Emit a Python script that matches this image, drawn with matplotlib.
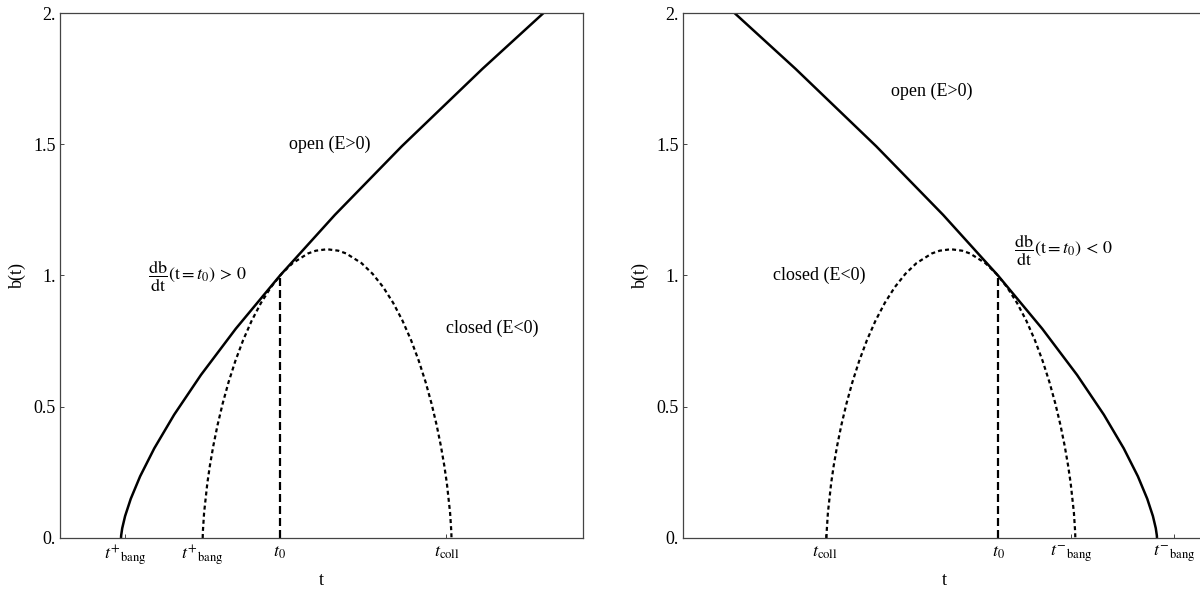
import matplotlib
matplotlib.use("Agg")
import matplotlib.pyplot as plt

plt.rcParams['font.family'] = ['Liberation Serif', 'DejaVu Serif']
plt.rcParams['mathtext.fontset'] = 'stix'

# ---- shared axis settings -------------------------------------------------
b_ticks = [0.0, 0.5, 1.0, 1.5, 2.0]
b_tick_labels = ["0.", "0.5", "1.", "1.5", "2."]

# ---- expanding case: db/dt(t0) > 0 ---------------------------------------
pos_t_ticks = [0.65, 1.42, 2.19, 3.865]
pos_t_tick_labels = [r'$t^{+}{}_{\mathrm{bang}}$', r'$t^{+}{}_{\mathrm{bang}}$',
                     r'$t_0$', r'$t_{\mathrm{coll}}$']
pos_t0 = 2.20
pos_open_t = [0.6100, 0.6115, 0.6221, 0.6510, 0.7076, 0.8014, 0.9426, 1.1417,
              1.4096, 1.7581, 2.2000, 2.7485, 3.4184, 4.2253, 4.8313, 5.1865]
pos_open_b = [0.0000, 0.0092, 0.0369, 0.0835, 0.1493, 0.2350, 0.3414, 0.4698,
              0.6212, 0.7973, 0.9998, 1.2307, 1.4924, 1.7875, 1.9985, 2.1188]
pos_closed_t = [1.4270, 1.4288, 1.4410, 1.4732, 1.4993, 1.5331, 1.5752, 1.6260,
                1.6856, 1.7542, 1.8313, 1.9168, 2.0099, 2.1099, 2.2160, 2.3270,
                2.4807, 2.5591, 2.6711, 2.7831, 2.8615, 3.0152, 3.1262, 3.2323,
                3.3323, 3.4254, 3.5109, 3.5880, 3.6566, 3.7162, 3.7670, 3.8091,
                3.8429, 3.8690, 3.9012, 3.9134, 3.9152]
pos_closed_b = [0.0000, 0.0246, 0.0961, 0.2081, 0.2763, 0.3507, 0.4295, 0.5111,
                0.5935, 0.6750, 0.7536, 0.8277, 0.8955, 0.9556, 1.0064, 1.0472,
                1.0840, 1.0945, 1.1000, 1.0945, 1.0840, 1.0472, 1.0064, 0.9556,
                0.8955, 0.8277, 0.7536, 0.6750, 0.5935, 0.5111, 0.4295, 0.3507,
                0.2763, 0.2081, 0.0961, 0.0246, 0.0000]

# ---- contracting case: db/dt(t0) < 0 -------------------------------------
neg_t_ticks = [1.42, 3.15, 3.88, 4.91]
neg_t_tick_labels = [r'$t_{\mathrm{coll}}$', r'$t_0$',
                     r'$t^{-}{}_{\mathrm{bang}}$', r'$t^{-}{}_{\mathrm{bang}}$']
neg_t0 = 3.15
neg_open_t = [4.7400, 4.7385, 4.7279, 4.6990, 4.6424, 4.5486, 4.4074, 4.2083,
              3.9404, 3.5919, 3.1500, 2.6015, 1.9316, 1.1247, 0.5187, 0.1635]
neg_open_b = pos_open_b
neg_closed_t = [1.4348, 1.4366, 1.4488, 1.4810, 1.5071, 1.5409, 1.5830, 1.6338,
                1.6934, 1.7620, 1.8391, 1.9246, 2.0177, 2.1177, 2.2238, 2.3348,
                2.4885, 2.5669, 2.6789, 2.7909, 2.8693, 3.0230, 3.1340, 3.2401,
                3.3401, 3.4332, 3.5187, 3.5958, 3.6644, 3.7240, 3.7748, 3.8169,
                3.8507, 3.8768, 3.9090, 3.9212, 3.9230]
neg_closed_b = [0.0000, 0.0246, 0.0961, 0.2081, 0.2763, 0.3507, 0.4295, 0.5111,
                0.5935, 0.6750, 0.7536, 0.8277, 0.8955, 0.9556, 1.0064, 1.0472,
                1.0840, 1.0945, 1.1000, 1.0945, 1.0840, 1.0472, 1.0064, 0.9556,
                0.8955, 0.8277, 0.7536, 0.6750, 0.5935, 0.5111, 0.4295, 0.3507,
                0.2763, 0.2081, 0.0961, 0.0246, 0.0000]

T_MAX = 5.23
FS = 13
FRAME = '#444444'

fig = plt.figure(figsize=(12, 5.91), dpi=100)
ax_pos = fig.add_axes([0.05, 0.0897, 0.4358, 0.8883])
ax_neg = fig.add_axes([0.5692, 0.0897, 0.4358, 0.8883])


def draw_panel(ax, open_t, open_b, closed_t, closed_b, t0, ticks, tick_labels):
    ax.plot(open_t, open_b, color='black', lw=1.8, solid_capstyle='butt')
    ax.plot(closed_t, closed_b, color='black', lw=1.6,
            dashes=(1.8, 1.4), dash_capstyle='butt')
    ax.plot([t0, t0], [0.0, 1.0], color='black', lw=1.6,
            dashes=(3.6, 1.8), dash_capstyle='butt')

    ax.set_xlim(0, T_MAX)
    ax.set_ylim(0, 2.0)
    ax.set_xticks(ticks)
    ax.set_xticklabels(tick_labels, fontsize=FS)
    ax.set_yticks(b_ticks)
    ax.set_yticklabels(b_tick_labels, fontsize=FS)
    ax.tick_params(direction='in', length=3, width=0.7, color=FRAME,
                   top=False, right=False)
    ax.tick_params(axis='x', pad=4)
    ax.tick_params(axis='y', pad=3)
    for sp in ax.spines.values():
        sp.set_color(FRAME)
        sp.set_linewidth(0.9)
    ax.set_xlabel('t', fontsize=FS)
    ax.xaxis.set_label_coords(0.5, -0.064)
    ax.set_ylabel('b(t)', fontsize=FS)
    ax.yaxis.set_label_coords(-0.065, 0.5)


draw_panel(ax_pos, pos_open_t, pos_open_b, pos_closed_t, pos_closed_b,
           pos_t0, pos_t_ticks, pos_t_tick_labels)
draw_panel(ax_neg, neg_open_t, neg_open_b, neg_closed_t, neg_closed_b,
           neg_t0, neg_t_ticks, neg_t_tick_labels)

# region labels, expanding case
ax_pos.text(2.70, 1.50, 'open (E>0)', fontsize=FS, ha='center', va='center')
ax_pos.text(4.32, 0.80, 'closed (E<0)', fontsize=FS, ha='center', va='center')
ax_pos.text(1.377, 0.996,
            r'$\dfrac{\mathrm{db}}{\mathrm{dt}}(\mathrm{t}{=}t_0)\,>\,0$',
            fontsize=FS, ha='center', va='center')

# region labels, contracting case
ax_neg.text(2.49, 1.70, 'open (E>0)', fontsize=FS, ha='center', va='center')
ax_neg.text(1.36, 1.00, 'closed (E<0)', fontsize=FS, ha='center', va='center')
ax_neg.text(3.805, 1.095,
            r'$\dfrac{\mathrm{db}}{\mathrm{dt}}(\mathrm{t}{=}t_0)\,<\,0$',
            fontsize=FS, ha='center', va='center')

fig.savefig('out.png', dpi=100)
